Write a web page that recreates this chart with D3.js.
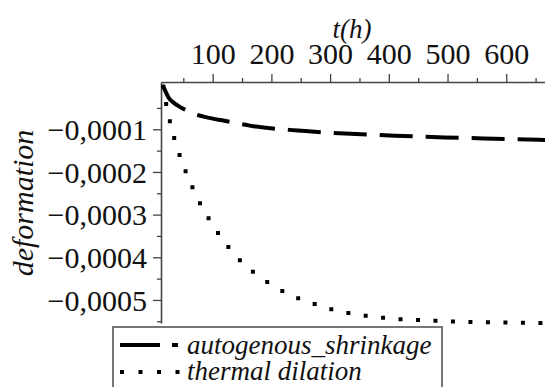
<!DOCTYPE html>
<html><head><meta charset="utf-8">
<script src="https://cdn.jsdelivr.net/npm/d3@7"></script>
<style>body{margin:0;background:#fff} svg{display:block}</style>
</head><body>
<script>
// ---- data (t in hours, deformation) ----
const autoT = [16, 20, 25, 32, 40, 50, 65, 90, 120, 165, 245, 325, 410, 495, 580, 666];
const autoV = [0, -0.000012, -0.000026, -0.000036, -0.000044, -0.000052, -0.000062, -0.000072, -0.000080, -0.000092, -0.000103, -0.000110, -0.000115, -0.000119, -0.000122, -0.000125];
const thermT = [16, 20, 25, 30, 40, 50, 60, 75, 88, 100, 125, 150, 175, 200, 230, 260, 300, 350, 400, 450, 500, 550, 600, 666];
const thermV = [0, -0.000035, -0.000068, -0.000098, -0.000145, -0.000185, -0.000218, -0.000264, -0.000297, -0.000324, -0.000373, -0.000412, -0.000441, -0.000464, -0.000487, -0.000503, -0.000521, -0.000535, -0.000543, -0.000547, -0.000550, -0.000552, -0.000553, -0.000554];
const xTicks = [100, 200, 300, 400, 500, 600];
const xMinor = [50, 150, 250, 350, 450, 550, 650];
const yTicks = [-0.0001, -0.0002, -0.0003, -0.0004, -0.0005];
const yTickLabels = ["\u22120,0001", "\u22120,0002", "\u22120,0003", "\u22120,0004", "\u22120,0005"];
const yMinor = [-0.00005, -0.00015, -0.00025, -0.00035, -0.00045, -0.00055];
const seriesNames = ["autogenous_shrinkage", "thermal dilation"];
const xTitle = "t(h)";
const yTitle = "deformation";

const W = 545, H = 387;
const svg = d3.select("body").append("svg").attr("width", W).attr("height", H);
const x = d3.scaleLinear().domain([12, 666]).range([161, 545]);
const y = d3.scaleLinear().domain([0.0000108, -0.000554]).range([82, 323]);
const serif = "Liberation Serif";

// minor ticks
svg.append("g").attr("transform", "translate(0,82)")
  .call(d3.axisTop(x).tickValues(xMinor).tickSize(4).tickSizeOuter(0).tickFormat(""))
  .call(g => g.select(".domain").remove())
  .selectAll("line").attr("stroke", "#444").attr("stroke-width", 1.3);
svg.append("g").attr("transform", "translate(161,0)")
  .call(d3.axisLeft(y).tickValues(yMinor).tickSize(4).tickSizeOuter(0).tickFormat(""))
  .call(g => g.select(".domain").remove())
  .selectAll("line").attr("stroke", "#444").attr("stroke-width", 1.3);

// major axes
const gx = svg.append("g").attr("transform", "translate(0,82)")
  .call(d3.axisTop(x).tickValues(xTicks).tickSize(8).tickSizeOuter(0).tickPadding(10).tickFormat(d3.format("d")));
const gy = svg.append("g").attr("transform", "translate(161,0)")
  .call(d3.axisLeft(y).tickValues(yTicks).tickSize(8).tickSizeOuter(0).tickPadding(6).tickFormat((d, i) => yTickLabels[i]));
[gx, gy].forEach(g => {
  g.attr("font-family", null).attr("font-size", null);
  g.select(".domain").attr("stroke", "#444").attr("stroke-width", 1.6);
  g.selectAll(".tick line").attr("stroke", "#444").attr("stroke-width", 1.3);
  g.selectAll("text").style("font-family", serif).style("font-size", "30px").attr("fill", "#111");
});
gy.selectAll("text").attr("dy", "0.34em");

// titles
svg.append("text").attr("x", 352).attr("y", 38).attr("text-anchor", "middle")
  .style("font-family", serif).style("font-style", "italic").style("font-size", "27px").attr("fill", "#111").text(xTitle);
svg.append("text").attr("transform", "translate(33,203) rotate(-90)").attr("text-anchor", "middle")
  .style("font-family", serif).style("font-style", "italic").style("font-size", "30px").attr("fill", "#111").text(yTitle);

// curves
const line = d3.line().x(d => x(d[0])).y(d => y(d[1])).curve(d3.curveMonotoneX);
const autoData = autoT.map((t, i) => [t, autoV[i]]);
const thermData = thermT.map((t, i) => [t, thermV[i]]);
svg.append("path").datum(autoData).attr("d", line).attr("fill", "none")
  .attr("stroke", "#000").attr("stroke-width", 4).attr("stroke-dasharray", "33,13");
svg.append("path").datum(thermData).attr("d", line).attr("fill", "none")
  .attr("stroke", "#000").attr("stroke-width", 4).attr("stroke-linecap", "square").attr("stroke-dasharray", "0,17.5");

// legend
const lg = svg.append("g");
lg.append("rect").attr("x", 113).attr("y", 327).attr("width", 329).attr("height", 80)
  .attr("fill", "#fff").attr("stroke", "#555").attr("stroke-width", 1.6);
lg.append("line").attr("x1", 120).attr("x2", 178).attr("y1", 345).attr("y2", 345)
  .attr("stroke", "#000").attr("stroke-width", 4).attr("stroke-dasharray", "40,12");
lg.append("line").attr("x1", 122).attr("x2", 180).attr("y1", 372).attr("y2", 372)
  .attr("stroke", "#000").attr("stroke-width", 4).attr("stroke-linecap", "square").attr("stroke-dasharray", "0,18.5");
lg.selectAll("text.leg").data(seriesNames).join("text").attr("class", "leg")
  .attr("x", 187).attr("y", (d, i) => 354 + i * 26)
  .style("font-family", serif).style("font-style", "italic").style("font-size", "27px").attr("fill", "#111")
  .text(d => d);
</script>
</body></html>
